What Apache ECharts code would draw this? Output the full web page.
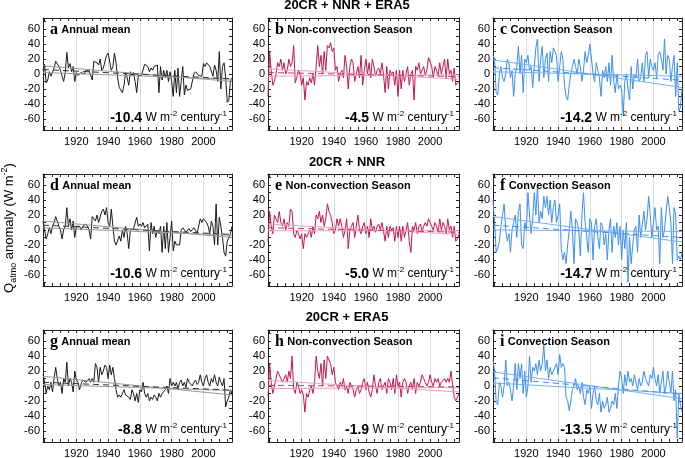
<!DOCTYPE html>
<html>
<head>
<meta charset="utf-8">
<script src="https://cdn.jsdelivr.net/npm/echarts@6/dist/echarts.min.js"></script>
<style>
  html, body { margin: 0; padding: 0; background: #fff; }
  #chart { width: 685px; height: 458px; }
</style>
</head>
<body>
<div id="chart"></div>
<script>
// axis extent and ticks
const firstYear = 1899
const lastYear = 2018
const xLabelYears = [1920, 1940, 1960, 1980, 2000]
const xTickYears = [1900, 1905, 1910, 1915, 1920, 1925, 1930, 1935, 1940, 1945, 1950, 1955,
  1960, 1965, 1970, 1975, 1980, 1985, 1990, 1995, 2000, 2005, 2010, 2015]
const yLabelValues = [-60, -40, -20, 0, 20, 40, 60]
const yTickValues = [-70, -60, -50, -40, -30, -20, -10, 0, 10, 20, 30, 40, 50, 60, 70]

const rowTitles = ['20CR + NNR + ERA5', '20CR + NNR', '20CR + ERA5']
const panelLetters = ['a', 'b', 'c', 'd', 'e', 'f', 'g', 'h', 'i']
const seasonNames = ['Annual mean', 'Non-convection Season', 'Convection Season']
const trendRates = ['-10.4', '-4.5', '-14.2', '-10.6', '-5.0', '-14.7', '-8.8', '-1.9', '-13.5']

// Q_atmo anomaly, one value per year 1899..2018
const annualA = [
  5, 13, -12, -8, 3, -3, -5, 8, 17, 15,
  10, 5, -3, -10, 2, 29, 8, 14, 3, 10,
  -10, 2, -2, 0, 2, 3, 0, 5, 4, 5,
  3, -8, 17, 18, 15, 12, 20, 5, 8, 6,
  25, 28, 27, 5, 10, 28, 15, -5, -18, -20,
  -25, -15, 2, -5, -15, 3, -2, 2, -10, -25,
  -2, 0, -2, 0, 13, 12, 10, 3, 8, 5,
  10, 8, 12, -25, 10, -8, 5, -5, 5, -10,
  3, -10, -30, 5, -25, 8, -30, -10, 10, -28,
  -15, -22, -20, -20, -20, 0, 3, 2, -2, -3,
  -3, 14, 10, 15, 17, 10, 8, -3, 12, 5,
  -10, 30, -20, 10, 15, -5, -38, -35, -10, -5
]
const nonConvB = [
  -30, 30, 5, -15, -10, 0, 15, 10, 20, 5,
  15, 0, 5, 20, 10, 15, 38, -12, -10, 5,
  0, -15, -5, -35, -10, -15, -5, -12, 0, -15,
  10, 38, 10, 25, 0, 30, 5, 38, 35, 42,
  30, 35, 5, 10, -10, 0, 5, -5, 25, 10,
  -20, 10, 20, 15, -10, 0, 10, -5, 25, -15,
  5, 20, 0, 15, -5, 20, 10, -3, 5, 8,
  0, 15, -2, -25, 10, -20, 5, 0, 3, -15,
  5, -30, 5, -20, 5, -10, 0, 10, -15, 0,
  5, -35, 10, 5, 15, 0, 5, 10, -2, 5,
  22, 20, 10, -5, 10, 5, -3, 15, 0, 10,
  20, -5, 20, 0, 5, -10, 8, -15, -12, -10
]
const convC = [
  25, 20, -25, -28, 0, 10, -5, -10, 0, 20,
  15, -5, 5, -30, 0, 10, 37, 0, 25, -25,
  20, 15, 25, 5, 10, -18, 10, 35, 47, -10,
  20, 37, -5, 20, 28, -10, 30, 15, 35, 30,
  25, -10, 10, 30, 20, -15, -30, -35, -15, 0,
  10, 20, 10, 0, 20, 10, -10, 5, 30, 15,
  25, 40, 20, 0, -10, 15, 5, -5, -30, 5,
  -5, 10, -10, 15, -15, 25, -10, -25, 0, -20,
  -15, -20, -55, -10, 0, -20, -35, 10, -20, 0,
  -5, 20, -10, -5, 15, -10, 25, 30, -5, 20,
  10, 5, 15, -5, 25, 30, 20, 5, 47, 0,
  25, 20, -10, 10, 25, -30, 15, -50, -45, -20
]
const annualD = [
  12, 10, -12, -5, 3, -5, 5, 10, 18, 12,
  5, 0, -12, 0, 5, 30, 5, 15, 0, 12,
  -10, 5, 3, 5, 0, 5, 3, 8, 5, 0,
  -12, 18, 15, 12, 20, 10, 8, 25, 28, 20,
  30, 10, 5, 28, 5, -15, -20, -22, -8, -15,
  0, -10, 5, -5, -25, 0, 0, 2, 0, 17,
  5, 8, 5, 10, 3, 5, 8, -28, 10, -5,
  5, -10, 0, -5, 5, -30, 5, -25, 10, -30,
  -10, 12, -28, -15, -20, -20, -20, 0, 3, 0,
  -3, -5, 2, -2, 0, 3, 0, -5, -3, 15,
  10, 15, 17, 10, 5, -5, 12, 5, -20, 35,
  -20, 17, 5, -10, -30, -35, -15, -10, -5, 5
]
const nonConvE = [
  -15, 25, 5, -5, 20, 22, 10, 25, 10, 5,
  15, 0, 10, 5, 28, 25, -5, -10, 0, -5,
  -12, -5, -25, -5, -10, -5, 0, -10, 5, -5,
  20, 15, 25, 10, 20, 5, 15, 35, 25, 20,
  10, -5, 0, 15, 5, 15, 5, -10, 0, 15,
  -25, 0, 5, 10, -10, 5, 20, 0, -5, 5,
  10, -5, 5, -10, 15, 0, 5, -3, 5, 8,
  0, 10, -2, -15, 5, -10, 5, 0, 3, -15,
  5, -10, 5, -15, 5, -10, 0, 10, -15, -30,
  5, 0, 10, -5, 5, 8, -2, 5, 10, 5,
  15, 10, 5, 0, 10, 5, -3, 15, 0, 10,
  5, -5, 15, 0, 5, -10, 5, -15, -12, -5
]
const convF = [
  40, 10, -30, -25, -15, 5, 20, 35, 0, -15,
  -5, -30, 0, 10, 20, -10, 25, 35, -20, -25,
  10, 0, 50, 20, -5, 15, 50, 20, 60, 10,
  25, 15, 45, 30, 45, 20, 40, 10, 30, 40,
  10, 20, 35, -25, -40, -30, -45, -20, 0, 25,
  0, -45, 15, 10, 0, -35, 20, 50, 10, -10,
  -30, 15, 10, -40, 5, 15, -10, -25, 10, 5,
  -20, -5, -40, 0, 15, -30, 5, -10, 10, -20,
  5, -40, 0, -25, 10, -70, -10, -45, -20, 0,
  5, -30, 20, -10, -10, 25, 0, 15, 45, 20,
  -10, 10, 30, 0, 5, -45, 30, -10, 0, 25,
  45, 30, 10, -45, 30, 20, -40, -35, -40, -30
]
const annualG = [
  15, 5, -10, 0, -5, 5, -8, 10, 25, 10,
  0, 5, -10, 10, 5, 32, 0, 10, 5, -8,
  20, 8, 5, -5, 3, 8, 10, 5, 3, 10,
  5, 10, 5, 30, 25, 5, 25, 15, 20, 28,
  25, 10, 28, 15, 25, 10, -5, -15, -12, -15,
  -10, -5, -12, -10, -15, -18, -5, -10, -20, -10,
  -22, -5, -8, 5, -10, -15, -10, -20, -15, -18,
  -12, -15, -20, -10, -15, -10, -12, -5, 0, -10,
  10, 0, 5, 0, 5, -5, 5, 8, 0, 5,
  -2, 10, 5, 3, 0, 5, 8, 2, 5, 15,
  5, 0, 10, 15, 5, 0, 10, 5, 15, 5,
  0, 12, 5, 0, 10, -28, -20, -15, -5, -10
]
const nonConvH = [
  -15, 30, 5, -10, 0, 10, 20, 15, 10, 5,
  10, 15, 5, 20, 10, 40, -5, -10, 5, 0,
  -10, -5, -12, -35, -10, -15, -5, 0, -10, 5,
  40, 20, 10, 30, 0, 35, 10, 40, 42, 30,
  15, 25, 5, 0, -5, 5, 0, 10, -5, 0,
  -10, 5, 0, -5, -15, -5, 0, -10, -5, 5,
  10, -5, 5, -8, -15, -5, 15, 0, -10, 5,
  10, -5, 0, 5, -10, 10, 5, -5, 10, -10,
  15, 0, 5, -15, 5, 10, 5, -10, 0, 5,
  -5, 10, -10, 5, 0, 5, 15, 10, 5, 0,
  5, 15, 5, 0, 10, 5, 10, 0, 5, 5,
  10, 5, 10, 5, 20, 20, -15, -20, -15, -10
]
const convI = [
  35, 20, -22, -25, 5, 0, -15, 0, 35, 0,
  5, -5, -20, 0, 30, -5, 30, 10, 30, -10,
  20, -15, 0, 40, 5, 25, 20, 30, 15, 35,
  20, 30, 55, 20, 35, 10, 25, 15, 20, 25,
  30, 15, 42, 25, 30, 25, -15, -20, -33, -20,
  -5, 0, 10, -5, 0, -10, 5, -15, -25, -5,
  -10, 0, -30, -10, 0, -20, -25, -10, -35, -20,
  -30, -25, -15, -35, -30, -20, -25, -10, -30, 0,
  20, 10, -10, 15, 0, 20, 5, 10, 0, 15,
  5, -5, 10, 0, 5, 20, 10, 5, 0, 15,
  10, 25, 10, 0, 15, -10, 5, 20, -10, 0,
  20, 5, -10, 20, -20, -5, -70, -10, -25, -35
]

// trend lines, value at firstYear and at lastYear: [upper bound, lower bound, fit]
const trendA = [[11, -10], [2, -7], [6, -6.5]]
const trendB = [[7, -7], [-3, -1], [2, -3.5]]
const trendC = [[19, -18], [3, -3], [8.5, -8.5]]
const trendD = [[12, -10], [3, -7], [6.5, -6]]
const trendE = [[8, -6], [-1, -1], [3, -3]]
const trendF = [[18, -16], [0, -2], [6.5, -10]]
const trendG = [[13, -12], [2, -6], [5, -5.5]]
const trendH = [[7.5, -8], [-3.5, -2], [1, -1.3]]
const trendI = [[19, -17], [4, -10], [11, -11]]

const seriesData = [annualA, nonConvB, convC, annualD, nonConvE, convF, annualG, nonConvH, convI]
const trendData = [trendA, trendB, trendC, trendD, trendE, trendF, trendG, trendH, trendI]
const years = annualA.map((v, k) => firstYear + k)

// layout
const colLeft = [43, 268, 493]
const colWidth = [189, 191, 189]
const rowTop = [18, 174, 330]
const panelH = 112
const palettes = [
  { line: '#1a1a1a', band: '#9a9a9a', fit: '#333333' },
  { line: '#c0184c', band: '#e7a3b6', fit: '#c8386a' },
  { line: '#3d8ef0', band: '#78b0f3', fit: '#3d8ef0' }
]
const sans = '"Liberation Sans", Arial, sans-serif'
const serif = '"Liberation Serif", "Times New Roman", serif'

const frameLine = { show: true, onZero: false, lineStyle: { color: '#222', width: 1 } }
const tickStyle = { color: '#222', width: 1 }

const grid = []
const xAxis = []
const yAxis = []
const series = []
const graphic = []

seriesData.forEach((vals, i) => {
  const r = Math.floor(i / 3)
  const c = i % 3
  const pal = palettes[c]
  grid.push({ left: colLeft[c], top: rowTop[r], width: colWidth[c], height: panelH, containLabel: false, outerBoundsMode: 'none' })

  const xb = { gridIndex: i, type: 'value', min: firstYear, max: lastYear }
  const xi = xAxis.length
  xAxis.push({
    ...xb, position: 'bottom', axisLine: frameLine,
    axisTick: { inside: true, length: 3, customValues: xTickYears, lineStyle: tickStyle },
    axisLabel: { customValues: xLabelYears, fontSize: 11, color: '#000', margin: 6, fontFamily: sans, formatter: v => String(v) },
    splitLine: { show: false }
  })
  xAxis.push({
    ...xb, position: 'top', axisLine: frameLine,
    axisTick: { inside: true, length: 3, customValues: xTickYears, lineStyle: tickStyle },
    axisLabel: { show: false }, splitLine: { show: false }
  })
  xAxis.push({
    ...xb, position: 'bottom', axisLine: { show: false },
    axisTick: { show: false, customValues: xLabelYears },
    axisLabel: { show: false },
    splitLine: { show: true, lineStyle: { color: '#d3dfdf', width: 1 } }
  })

  const yb = { gridIndex: i, type: 'value', min: -75, max: 75 }
  const yi = yAxis.length
  yAxis.push({
    ...yb, position: 'left', axisLine: frameLine,
    axisTick: { inside: true, length: 3, customValues: yTickValues, lineStyle: tickStyle },
    axisLabel: { customValues: yLabelValues, fontSize: 11, color: '#000', margin: 3, fontFamily: sans },
    splitLine: { show: false }
  })
  yAxis.push({
    ...yb, position: 'right', axisLine: frameLine,
    axisTick: { inside: true, length: 3, customValues: yTickValues, lineStyle: tickStyle },
    axisLabel: { show: false }, splitLine: { show: false }
  })

  series.push({
    type: 'line', xAxisIndex: xi, yAxisIndex: yi,
    data: vals.map((v, k) => [years[k], v]),
    symbol: 'none', silent: true, z: 3,
    lineStyle: { color: pal.line, width: 1 }
  })
  trendData[i].forEach((t, k) => {
    series.push({
      type: 'line', xAxisIndex: xi, yAxisIndex: yi,
      data: [[firstYear, t[0]], [lastYear, t[1]]],
      symbol: 'none', silent: true, z: 4,
      lineStyle: { color: k === 2 ? pal.fit : pal.band, width: 1, type: k === 2 ? [6, 4] : 'solid' }
    })
  })

  // panel label
  graphic.push({
    type: 'text', x: colLeft[c] + 7, y: rowTop[r] + 12, z: 10,
    style: {
      text: '{l|' + panelLetters[i] + '} {t|' + seasonNames[c] + '}',
      verticalAlign: 'middle',
      rich: {
        l: { font: 'bold 16px ' + serif, fill: '#000' },
        t: { font: 'bold 11px ' + sans, fill: '#000' }
      }
    }
  })
  // trend rate
  graphic.push({
    type: 'text', x: colLeft[c] + colWidth[c] - 5, y: rowTop[r] + 100, z: 10,
    style: {
      text: '{b|' + trendRates[i] + '} {n|W m}{s|-2}{n| century}{s|-1}',
      align: 'right', verticalAlign: 'middle',
      rich: {
        b: { font: 'bold 14px ' + sans, fill: '#000', lineHeight: 16 },
        n: { font: '12px ' + sans, fill: '#000', lineHeight: 16 },
        s: { font: '8px ' + sans, fill: '#000', lineHeight: 16, verticalAlign: 'top' }
      }
    }
  })
})

rowTitles.forEach((t, r) => {
  graphic.push({
    type: 'text', x: 347, y: [5, 162, 317][r],
    style: { text: t, font: 'bold 13px ' + sans, fill: '#000', align: 'center', verticalAlign: 'middle' }
  })
})

graphic.push({
  type: 'text', x: 9, y: 228, rotation: Math.PI / 2,
  style: {
    text: '{n|Q}{sub|atmo}{n| anomaly (W m}{sup|-2}{n|)}',
    align: 'center', verticalAlign: 'middle',
    rich: {
      n: { font: '13px ' + sans, fill: '#000', lineHeight: 18 },
      sub: { font: '9px ' + sans, fill: '#000', lineHeight: 18, verticalAlign: 'bottom' },
      sup: { font: '9px ' + sans, fill: '#000', lineHeight: 18, verticalAlign: 'top' }
    }
  }
})

const chart = echarts.init(document.getElementById('chart'), null, { renderer: 'canvas' })
chart.setOption({
  animation: false,
  backgroundColor: '#fff',
  grid, xAxis, yAxis, series, graphic
})
</script>
</body>
</html>
